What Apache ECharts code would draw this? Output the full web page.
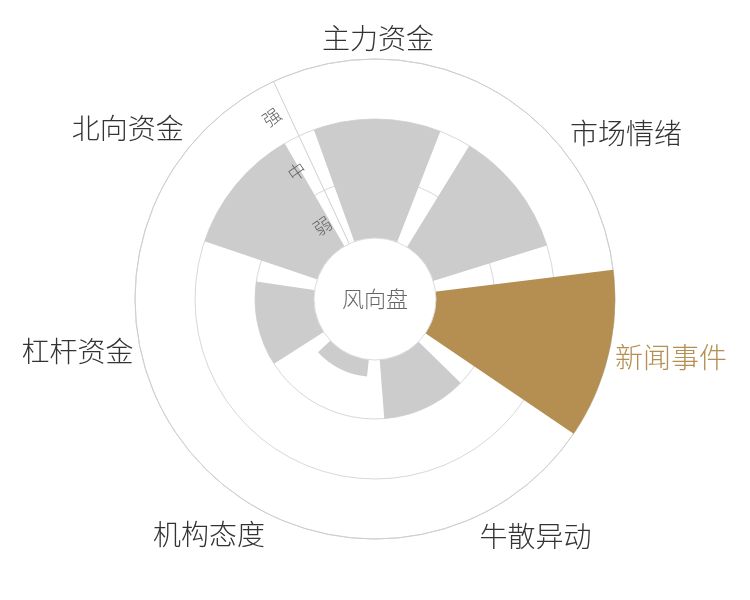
<!DOCTYPE html>
<html>
<head>
<meta charset="utf-8">
<script src="https://cdn.jsdelivr.net/npm/echarts@6/dist/echarts.min.js"></script>
<style>
    html, body { margin: 0; padding: 0; background: #fff; }
    #myChart { width: 750px; height: 600px; }
</style>
</head>
<body>
<div id="myChart"></div>
<script>
var categories = ['主力资金', '市场情绪', '新闻事件', '牛散异动', '机构态度', '杠杆资金', '北向资金'];
var values = [2, 2, 3, 1, 0.3, 1, 2];
var levels = ['弱', '中', '强'];
var highlight = '新闻事件';
var centerText = '风向盘';

var gray = '#cccccc';
var gold = '#b48f51';
var font = 'Noto Sans CJK SC';
var center = [375, 299];
// first category roughly centred at the top
var startAngle = 115;

var myChart = echarts.init(document.getElementById('myChart'));
var option = {
    animation: false,
    backgroundColor: '#fff',
    polar: [
        { center: center, radius: [60, 240] },
        { center: center, radius: [60, 240] }
    ],
    angleAxis: [
        {
            polarIndex: 0,
            type: 'category',
            startAngle: startAngle,
            data: categories.map(function (c) {
                return c === highlight ? { value: c, textStyle: { color: gold } } : c;
            }),
            axisLine: { lineStyle: { color: '#cfcfcf', width: 1 } },
            axisTick: { show: false },
            splitLine: { show: false },
            axisLabel: { fontSize: 28, color: '#333', margin: 7, fontFamily: font, fontWeight: 300 }
        },
        {
            polarIndex: 1,
            type: 'category',
            startAngle: startAngle,
            data: categories,
            show: false
        }
    ],
    radiusAxis: [
        {
            polarIndex: 0,
            type: 'value',
            min: 0,
            max: 3,
            interval: 1,
            axisLine: { show: true, lineStyle: { color: '#d0d0d0', width: 1 } },
            axisTick: { show: false },
            axisLabel: { show: false },
            splitLine: { show: true, lineStyle: { color: '#d8d8d8', width: 1 } }
        },
        {
            // 弱 / 中 / 强 labels sit in the middle of each ring
            polarIndex: 1,
            type: 'category',
            z: 10,
            data: levels,
            axisLine: { show: false },
            axisTick: { show: false },
            splitLine: { show: false },
            axisLabel: { rotate: 35, color: '#666', fontSize: 18, fontFamily: font, fontWeight: 300, hideOverlap: false }
        }
    ],
    series: [
        {
            type: 'bar',
            coordinateSystem: 'polar',
            polarIndex: 0,
            barCategoryGap: '20%',
            silent: true,
            data: values.map(function (v, i) {
                return { value: v, itemStyle: { color: categories[i] === highlight ? gold : gray } };
            })
        },
        {
            type: 'pie',
            center: center,
            radius: [0, 61],
            silent: true,
            z: 5,
            itemStyle: { color: '#fff', borderColor: '#dcdcdc', borderWidth: 1 },
            label: { show: true, position: 'center', formatter: centerText, fontSize: 22, color: '#666', fontFamily: font, fontWeight: 300 },
            labelLine: { show: false },
            data: [{ value: 1, name: centerText }]
        }
    ]
};
myChart.setOption(option);
</script>
</body>
</html>
